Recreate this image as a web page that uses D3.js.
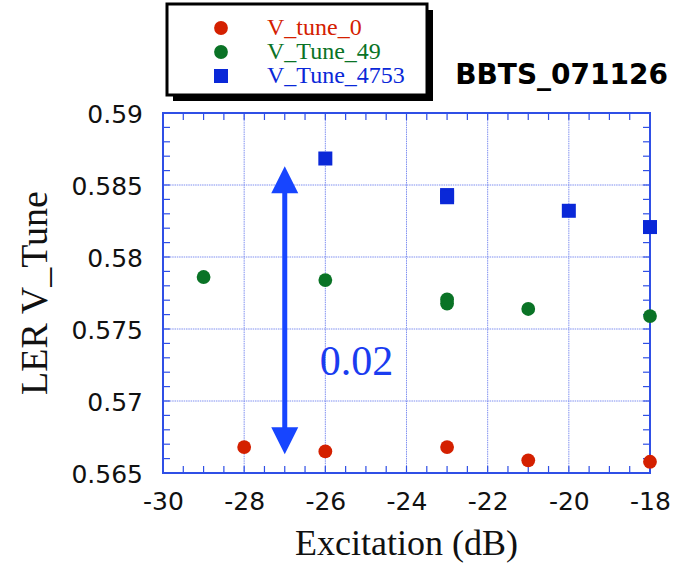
<!DOCTYPE html>
<html>
<head>
<meta charset="utf-8">
<script src="https://cdn.jsdelivr.net/npm/d3@7"></script>
<style>
  html, body { margin: 0; padding: 0; background: #fff; }
  svg { display: block; }
</style>
</head>
<body>
<svg id="chart" width="684" height="572"></svg>
<script>
// Excitation (dB) vs measured LER vertical tune, three tune settings
const tune0X = [-28, -26, -23, -21, -18];
const tune0Y = [0.5668, 0.5665, 0.5668, 0.56588, 0.56578];

const tune49X = [-29, -26, -23, -23, -21, -18];
const tune49Y = [0.57861, 0.5784, 0.57705, 0.57677, 0.57639, 0.5759];

const tune4753X = [-26, -23, -23, -20, -18];
const tune4753Y = [0.58684, 0.5843, 0.58415, 0.58321, 0.58208];

const seriesNames = ["V_tune_0", "V_Tune_49", "V_Tune_4753"];
const seriesColors = ["#d42000", "#0a7326", "#0a28d8"];
const seriesShapes = ["circle", "circle", "square"];

const xTicks = [-30, -28, -26, -24, -22, -20, -18];
const xTickLabels = ["-30", "-28", "-26", "-24", "-22", "-20", "-18"];
const yTicks = [0.565, 0.57, 0.575, 0.58, 0.585, 0.59];
const yTickLabels = ["0.565", "0.57", "0.575", "0.58", "0.585", "0.59"];

// Span marker: double arrow covering 0.02 at -27 dB
const spanX = -27;
const spanFrom = 0.5663;
const spanTo = 0.5863;
const spanLabel = "0.02";

const svg = d3.select("#chart");
const W = 684, H = 572;
const m = { left: 163, top: 113, right: 34, bottom: 99 };
const iw = W - m.left - m.right, ih = H - m.top - m.bottom;

const x = d3.scaleLinear().domain([-30, -18]).range([m.left, m.left + iw]);
const y = d3.scaleLinear().domain([0.565, 0.59]).range([m.top + ih, m.top]);

const frameColor = "#2f4fe6";
const gridColor = "#7f8ff0";

// grid lines at the major ticks
const g = svg.append("g");
g.selectAll("line.gx").data(xTicks.slice(1, -1)).join("line")
  .attr("x1", d => x(d)).attr("x2", d => x(d))
  .attr("y1", m.top).attr("y2", m.top + ih)
  .attr("stroke", gridColor).attr("stroke-width", 1).attr("stroke-dasharray", "1.5,0.8");
g.selectAll("line.gy").data(yTicks.slice(1, -1)).join("line")
  .attr("y1", d => y(d)).attr("y2", d => y(d))
  .attr("x1", m.left).attr("x2", m.left + iw)
  .attr("stroke", gridColor).attr("stroke-width", 1).attr("stroke-dasharray", "1.5,0.8");

// inward ticks on all four sides
const xMinor = d3.range(-30, -18 + 0.001, 0.5);
const yMinor = d3.range(0, 26).map(i => 0.565 + i * 0.001);
const tickLen = 7;
const axT = svg.append("g").attr("stroke", frameColor).attr("stroke-width", 1.2);
xMinor.forEach(v => {
  axT.append("line").attr("x1", x(v)).attr("x2", x(v)).attr("y1", m.top + ih).attr("y2", m.top + ih - tickLen);
  axT.append("line").attr("x1", x(v)).attr("x2", x(v)).attr("y1", m.top).attr("y2", m.top + tickLen);
});
yMinor.forEach(v => {
  axT.append("line").attr("y1", y(v)).attr("y2", y(v)).attr("x1", m.left).attr("x2", m.left + tickLen);
  axT.append("line").attr("y1", y(v)).attr("y2", y(v)).attr("x1", m.left + iw).attr("x2", m.left + iw - tickLen);
});

// frame
svg.append("rect")
  .attr("x", m.left).attr("y", m.top).attr("width", iw).attr("height", ih)
  .attr("fill", "none").attr("stroke", frameColor).attr("stroke-width", 2);

// tick labels
const tickFont = "DejaVu Sans, Verdana, sans-serif";
const xAxis = d3.axisBottom(x).tickValues(xTicks).tickSize(0).tickPadding(0)
  .tickFormat((d, i) => xTickLabels[i]);
const xa = svg.append("g").attr("transform", `translate(0,${m.top + ih})`).call(xAxis);
xa.select(".domain").remove();
xa.selectAll("text").attr("font-family", tickFont).attr("font-size", 25).attr("fill", "#111")
  .attr("dy", null).attr("y", 37);

const yAxis = d3.axisLeft(y).tickValues(yTicks).tickSize(0).tickPadding(0)
  .tickFormat((d, i) => yTickLabels[i]);
const ya = svg.append("g").attr("transform", `translate(${m.left - 20},0)`).call(yAxis);
ya.select(".domain").remove();
ya.selectAll("text").attr("font-family", tickFont).attr("font-size", 25).attr("fill", "#111")
  .attr("x", 0).attr("dy", "0.36em");

// axis titles
const serif = "Liberation Serif, Times New Roman, serif";
svg.append("text").attr("x", x(-24)).attr("y", 555)
  .attr("text-anchor", "middle").attr("font-family", serif).attr("font-size", 36).attr("fill", "#111")
  .text("Excitation (dB)");
svg.append("text").attr("transform", `translate(47,${293}) rotate(-90)`)
  .attr("text-anchor", "middle").attr("font-family", serif).attr("font-size", 38).attr("fill", "#111")
  .text("LER V_Tune");

// span arrow
const arrowColor = "#1745ff";
const ax = x(spanX), yTop = y(spanTo), yBot = y(spanFrom);
const head = 27, halfW = 13.5;
svg.append("line").attr("x1", ax).attr("x2", ax).attr("y1", yTop + head - 2).attr("y2", yBot - head + 2)
  .attr("stroke", arrowColor).attr("stroke-width", 5);
svg.append("path").attr("d", `M${ax},${yTop} L${ax - halfW},${yTop + head} L${ax + halfW},${yTop + head} Z`).attr("fill", arrowColor);
svg.append("path").attr("d", `M${ax},${yBot} L${ax - halfW},${yBot - head} L${ax + halfW},${yBot - head} Z`).attr("fill", arrowColor);
svg.append("text").attr("x", ax + 35).attr("y", y(0.5718))
  .attr("font-family", serif).attr("font-size", 42).attr("fill", "#1a3cf0").text(spanLabel);

// data markers
const series = [
  { xs: tune0X, ys: tune0Y },
  { xs: tune49X, ys: tune49Y },
  { xs: tune4753X, ys: tune4753Y }
];
const r = 6.9, sq = 14;
series.forEach((s, i) => {
  const pts = s.xs.map((v, j) => [v, s.ys[j]]);
  const gg = svg.append("g").attr("fill", seriesColors[i]);
  if (seriesShapes[i] === "circle") {
    gg.selectAll("circle").data(pts).join("circle")
      .attr("cx", d => x(d[0])).attr("cy", d => y(d[1])).attr("r", r);
  } else {
    gg.selectAll("rect").data(pts).join("rect")
      .attr("x", d => x(d[0]) - sq / 2).attr("y", d => y(d[1]) - sq / 2)
      .attr("width", sq).attr("height", sq);
  }
});

// legend box with drop shadow
const lg = svg.append("g");
const lx = 167, ly = 4, lw = 260, lh = 91;
lg.append("rect").attr("x", lx + 6).attr("y", ly + 6).attr("width", lw).attr("height", lh).attr("fill", "#000");
lg.append("rect").attr("x", lx).attr("y", ly).attr("width", lw).attr("height", lh)
  .attr("fill", "#fff").attr("stroke", "#000").attr("stroke-width", 3);
const rowY = [28, 52, 76];
seriesNames.forEach((name, i) => {
  if (seriesShapes[i] === "circle") {
    lg.append("circle").attr("cx", 221).attr("cy", rowY[i]).attr("r", r).attr("fill", seriesColors[i]);
  } else {
    lg.append("rect").attr("x", 221 - sq / 2).attr("y", rowY[i] - sq / 2).attr("width", sq).attr("height", sq)
      .attr("fill", seriesColors[i]);
  }
  lg.append("text").attr("x", 267).attr("y", rowY[i] + 7)
    .attr("font-family", serif).attr("font-size", 24).attr("fill", seriesColors[i]).text(name);
});

// run tag
svg.append("text").attr("x", 668).attr("y", 84).attr("text-anchor", "end")
  .attr("font-family", tickFont).attr("font-weight", "bold").attr("font-size", 28).attr("fill", "#000")
  .text("BBTS_071126");
</script>
</body>
</html>
